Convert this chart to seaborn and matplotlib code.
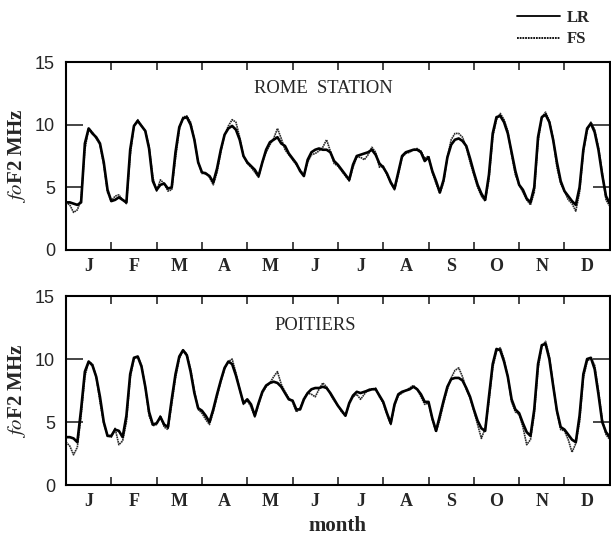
import numpy as np
import pandas as pd
import seaborn as sns
import matplotlib.pyplot as plt
from matplotlib.lines import Line2D

# hours sampled inside each month (every 2 h), months on the x axis
hours = [0, 2, 4, 6, 8, 10, 12, 14, 16, 18, 20, 22]
months = ['J', 'F', 'M', 'A', 'M', 'J', 'J', 'A', 'S', 'O', 'N', 'D']

# Rome station, foF2 (MHz), one row per month
rome_lr = [
    [3.8, 3.8, 3.7, 3.6, 3.8, 8.5, 9.7, 9.3, 9.0, 8.5, 7.0, 4.8],
    [3.9, 4.0, 4.2, 4.0, 3.8, 8.0, 9.9, 10.3, 9.9, 9.5, 8.1, 5.5],
    [4.8, 5.2, 5.3, 4.9, 5.0, 7.8, 9.8, 10.5, 10.6, 10.0, 8.8, 7.0],
    [6.2, 6.1, 5.9, 5.4, 6.5, 8.0, 9.2, 9.7, 9.9, 9.6, 8.8, 7.5],
    [7.0, 6.7, 6.4, 5.9, 7.0, 8.0, 8.6, 8.8, 9.0, 8.5, 8.3, 7.7],
    [7.3, 6.9, 6.3, 5.9, 7.2, 7.8, 8.0, 8.1, 8.0, 8.0, 7.8, 7.1],
    [6.8, 6.4, 6.0, 5.6, 6.8, 7.5, 7.6, 7.7, 7.8, 8.0, 7.6, 6.9],
    [6.6, 6.1, 5.4, 4.9, 6.2, 7.5, 7.8, 7.9, 8.0, 8.0, 7.8, 7.1],
    [7.4, 6.3, 5.5, 4.6, 5.6, 7.4, 8.4, 8.8, 8.9, 8.7, 8.3, 7.3],
    [6.2, 5.2, 4.5, 4.0, 6.0, 9.3, 10.6, 10.7, 10.2, 9.3, 7.8, 6.3],
    [5.2, 4.8, 4.1, 3.8, 5.0, 9.0, 10.6, 10.8, 10.2, 8.8, 7.0, 5.5],
    [4.7, 4.3, 3.9, 3.6, 5.0, 8.0, 9.7, 10.1, 9.4, 8.0, 6.0, 4.3],
]
rome_fs = [
    [3.8, 3.6, 3.0, 3.2, 4.0, 8.0, 9.7, 9.4, 8.9, 8.4, 6.8, 4.6],
    [3.9, 4.3, 4.4, 4.0, 3.7, 7.5, 9.9, 10.4, 9.9, 9.5, 8.3, 5.8],
    [4.7, 5.6, 5.3, 4.7, 4.8, 7.3, 9.6, 10.6, 10.7, 10.2, 8.8, 7.0],
    [6.1, 6.2, 5.8, 5.2, 6.2, 7.8, 9.2, 9.9, 10.4, 10.2, 9.0, 7.5],
    [6.9, 6.6, 6.2, 5.8, 7.0, 7.8, 8.4, 8.9, 9.7, 8.9, 8.0, 7.6],
    [7.2, 6.8, 6.4, 6.0, 7.0, 7.6, 7.7, 7.9, 8.2, 8.8, 7.9, 6.9],
    [6.7, 6.3, 5.9, 5.5, 6.6, 7.4, 7.4, 7.2, 7.6, 8.2, 7.8, 6.6],
    [6.7, 6.0, 5.3, 4.8, 6.0, 7.4, 7.7, 7.8, 8.0, 8.1, 7.9, 7.3],
    [7.5, 6.2, 5.3, 4.5, 5.4, 7.4, 8.8, 9.3, 9.3, 9.0, 8.2, 7.0],
    [6.0, 5.0, 4.3, 3.9, 5.6, 9.0, 10.4, 10.9, 10.4, 9.5, 7.6, 6.0],
    [5.2, 4.6, 4.0, 3.6, 4.6, 8.6, 10.6, 11.0, 10.3, 8.9, 6.6, 5.3],
    [4.7, 4.0, 3.7, 3.1, 4.6, 7.8, 9.5, 10.2, 9.6, 8.2, 6.2, 4.0],
]
rome_end = [3.7, 3.5]  # LR, FS at the end of December

# Poitiers, foF2 (MHz)
poit_lr = [
    [3.8, 3.8, 3.7, 3.4, 6.0, 9.0, 9.8, 9.5, 8.6, 7.0, 5.0, 3.9],
    [3.9, 4.4, 4.3, 3.8, 5.5, 8.8, 10.1, 10.2, 9.4, 7.8, 5.8, 4.8],
    [4.9, 5.4, 4.8, 4.6, 6.8, 8.8, 10.2, 10.7, 10.3, 9.0, 7.3, 6.1],
    [5.9, 5.5, 5.0, 6.0, 7.2, 8.3, 9.3, 9.8, 9.6, 8.7, 7.6, 6.5],
    [6.8, 6.4, 5.5, 6.5, 7.4, 7.9, 8.1, 8.2, 8.1, 7.8, 7.3, 6.8],
    [6.7, 6.0, 6.0, 6.8, 7.3, 7.6, 7.7, 7.7, 7.8, 7.7, 7.3, 6.8],
    [6.3, 5.9, 5.5, 6.5, 7.1, 7.4, 7.3, 7.4, 7.5, 7.6, 7.6, 7.1],
    [6.6, 5.7, 4.9, 6.4, 7.2, 7.4, 7.5, 7.6, 7.8, 7.6, 7.2, 6.6],
    [6.6, 5.3, 4.3, 5.5, 6.7, 7.8, 8.4, 8.5, 8.5, 8.3, 7.7, 7.0],
    [6.0, 5.1, 4.5, 4.3, 7.0, 9.6, 10.8, 10.7, 9.8, 8.6, 6.8, 6.0],
    [5.7, 4.9, 4.2, 3.9, 6.0, 9.6, 11.1, 11.2, 10.0, 7.9, 5.9, 4.6],
    [4.4, 4.0, 3.6, 3.4, 5.5, 8.8, 10.0, 10.1, 9.2, 7.2, 5.0, 4.2],
]
poit_fs = [
    [3.4, 3.1, 2.4, 3.0, 5.5, 8.6, 9.8, 9.6, 8.6, 6.6, 4.9, 3.9],
    [3.8, 4.5, 3.2, 3.5, 5.0, 8.5, 10.0, 10.2, 9.5, 7.8, 5.5, 4.7],
    [4.8, 5.5, 4.6, 4.4, 6.4, 8.5, 10.0, 10.7, 10.4, 9.2, 7.5, 6.0],
    [5.7, 5.2, 4.8, 5.8, 7.0, 8.2, 9.2, 9.8, 10.0, 8.9, 7.6, 6.4],
    [6.7, 6.2, 5.4, 6.4, 7.3, 7.8, 8.1, 8.6, 9.0, 8.0, 7.4, 6.9],
    [6.6, 5.8, 6.1, 6.9, 7.3, 7.2, 7.0, 7.6, 8.1, 7.8, 7.2, 6.7],
    [6.3, 5.8, 5.5, 6.4, 7.0, 7.2, 6.8, 7.2, 7.6, 7.6, 7.7, 7.0],
    [6.5, 5.6, 4.8, 6.3, 7.1, 7.3, 7.5, 7.7, 7.9, 7.6, 7.0, 6.4],
    [6.5, 5.2, 4.2, 5.2, 6.5, 7.6, 8.5, 9.1, 9.3, 8.6, 7.6, 6.9],
    [5.9, 4.8, 3.7, 4.5, 6.6, 9.3, 10.6, 10.9, 10.0, 8.6, 6.6, 5.8],
    [5.6, 4.6, 3.2, 3.6, 5.6, 9.2, 11.0, 11.4, 10.2, 8.0, 5.8, 4.4],
    [4.3, 3.6, 2.6, 3.3, 5.0, 8.5, 9.8, 10.1, 9.5, 7.5, 5.2, 4.0],
]
poit_end = [3.8, 3.6]


def to_frame(rows, end):
    xs, ys = [], []
    for m, row in enumerate(rows):
        for h, v in zip(hours, row):
            xs.append(m + h / 24)
            ys.append(v)
    xs.append(12.0)
    ys.append(end)
    return pd.DataFrame({'x': xs, 'foF2': ys})


sns.set_style('ticks')
plt.rcParams['font.family'] = ['Liberation Serif', 'DejaVu Serif']
plt.rcParams['mathtext.fontset'] = 'stix'

fig = plt.figure(figsize=(6.11, 5.36), dpi=100)
ax1 = fig.add_axes([0.108, 0.5336, 0.890, 0.3507])
ax2 = fig.add_axes([0.108, 0.0951, 0.890, 0.3526])

fs_style = (0, (1, 0.4))
panels = [(ax1, rome_lr, rome_fs, rome_end, 'ROME  STATION', 5.67, 12.9),
          (ax2, poit_lr, poit_fs, poit_end, 'POITIERS', 5.5, 12.7)]

for ax, lr, fs, end, name, tx, ty in panels:
    sns.lineplot(data=to_frame(fs, end[1]), x='x', y='foF2', ax=ax,
                 color='#2a2a2a', lw=1.2, linestyle=fs_style)
    sns.lineplot(data=to_frame(lr, end[0]), x='x', y='foF2', ax=ax,
                 color='black', lw=1.9)
    ax.set_xlim(0, 12)
    ax.set_ylim(0, 15)
    ax.set_xlabel('')
    ax.set_ylabel(r'$fo$F2 MHz', fontsize=15, fontweight='bold', labelpad=5)
    ax.text(tx, ty, name, ha='center', va='center', fontsize=13.4)

    ax.set_xticks(np.arange(1, 12))
    ax.set_xticks(np.arange(12) + 0.5, minor=True)
    ax.set_xticklabels([])
    ax.set_xticklabels(months, minor=True, fontweight='bold', fontsize=13)
    ax.tick_params(axis='x', which='major', direction='in', length=6, width=1.2,
                   top=True, bottom=True)
    ax.tick_params(axis='x', which='minor', length=0, pad=6)

    ax.set_yticks([0, 5, 10, 15])
    ax.tick_params(axis='y', direction='in', length=12, width=1.2,
                   left=True, right=True, pad=8)
    for lab in ax.get_yticklabels():
        lab.set_family('Liberation Sans')
        lab.set_fontsize(13)

    for sp in ax.spines.values():
        sp.set_visible(True)
        sp.set_linewidth(1.5)
        sp.set_color('black')

ax2.set_xlabel('month', fontsize=15, fontweight='bold', labelpad=4)

handles = [Line2D([], [], color='black', lw=1.3),
           Line2D([], [], color='black', lw=1.3, linestyle=(0, (1, 0.5)))]
fig.legend(handles, ['LR', 'FS'], loc='upper right', bbox_to_anchor=(0.99, 1.01),
           frameon=False, handlelength=2.6, handletextpad=0.4, labelspacing=0.35,
           prop={'family': 'Liberation Serif', 'weight': 'bold', 'size': 12})

plt.savefig('out.png', dpi=100)
